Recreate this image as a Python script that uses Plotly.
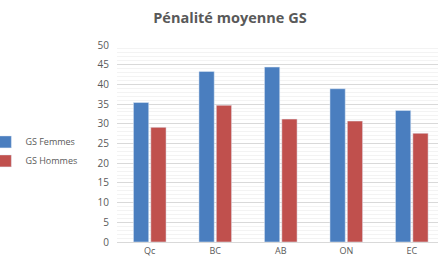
import plotly.graph_objects as go

categories = ["Qc", "BC", "AB", "ON", "EC"]
femmes = [35.4, 43.3, 44.4, 38.9, 33.4]
hommes = [29.1, 34.7, 31.2, 30.7, 27.6]
y_ticks = [0, 5, 10, 15, 20, 25, 30, 35, 40, 45, 50]

fig = go.Figure()
fig.add_trace(go.Bar(x=categories, y=femmes, name="GS Femmes", marker_color="#4A7EBF"))
fig.add_trace(go.Bar(x=categories, y=hommes, name="GS Hommes", marker_color="#C0504D"))

fig.update_layout(
    width=438, height=262,
    margin=dict(l=117, r=0, t=45, b=20, autoexpand=False),
    paper_bgcolor="white", plot_bgcolor="white",
    barmode="group", bargap=0.47, bargroupgap=0.12,
    title=dict(text="<b>Pénalité moyenne GS</b>", x=0.525, xanchor="center", y=0.93, yanchor="middle",
               font=dict(family="Open Sans", size=14.5, color="#595959")),
    font=dict(family="Open Sans", color="#595959", size=9),
    legend=dict(x=-0.41, y=0.46, xanchor="left", yanchor="middle",
                font=dict(size=9, color="#595959"), tracegroupgap=4,
                itemwidth=30, bgcolor="rgba(0,0,0,0)"),
    showlegend=True,
)
fig.update_xaxes(range=[-0.5, 4.4], showgrid=False, showline=True, linecolor="#d9d9d9",
                 ticks="", automargin=False, tickfont=dict(size=9, color="#595959"))
fig.update_yaxes(range=[0, 50], tickvals=y_ticks, showgrid=True, gridcolor="#d9d9d9",
                 zeroline=False, ticks="", automargin=False, ticklabelstandoff=7,
                 tickfont=dict(size=10, color="#595959"),
                 minor=dict(dtick=1, showgrid=True, gridcolor="#f3f3f3", gridwidth=1))

fig.write_html("out.html", config={"displayModeBar": False},
               post_script="document.body.style.margin='0';document.body.style.overflow='hidden';")
